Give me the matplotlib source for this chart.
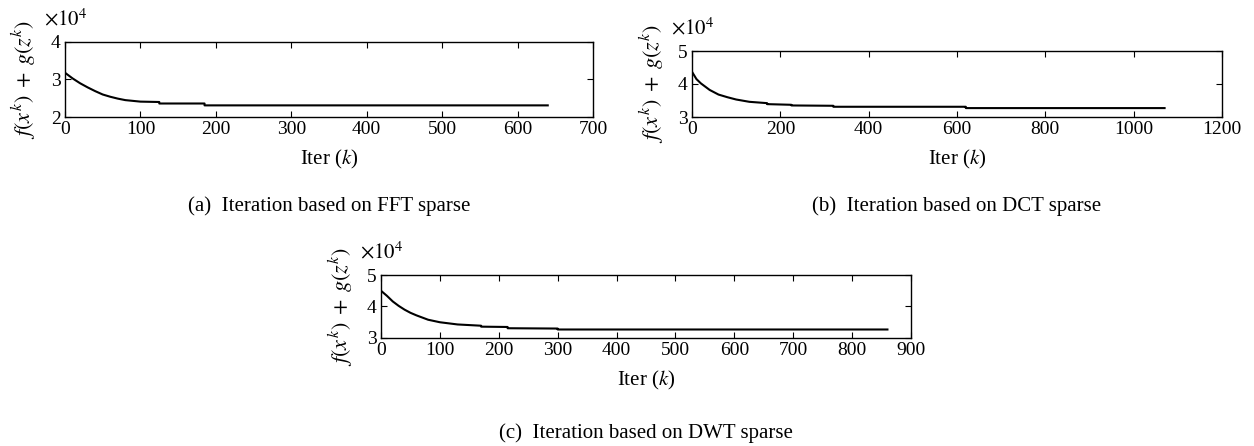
import matplotlib.pyplot as plt
from matplotlib.ticker import FuncFormatter

plt.rcParams['font.family'] = ['Liberation Serif', 'DejaVu Serif']
plt.rcParams['mathtext.fontset'] = 'stix'
plt.rcParams['font.size'] = 13

W, H = 1254, 446

# (a) FFT sparse
fft_k = [0, 10, 20, 30, 40, 50, 60, 70, 80, 90, 100, 125, 125, 185, 185, 640]
fft_v = [31800, 30300, 29000, 27900, 26900, 26000, 25400, 24900, 24500, 24300, 24100, 24000, 23600, 23600, 23100, 23100]

# (b) DCT sparse
dct_k = [0, 10, 20, 40, 60, 80, 100, 130, 170, 170, 225, 225, 320, 320, 620, 620, 1070]
dct_v = [43700, 41500, 40200, 38200, 36800, 36000, 35300, 34600, 34200, 33900, 33700, 33500, 33400, 33100, 33100, 32700, 32700]

# (c) DWT sparse
dwt_k = [0, 10, 20, 30, 40, 50, 60, 80, 100, 130, 170, 170, 215, 215, 300, 300, 860]
dwt_v = [45000, 43400, 41600, 40200, 39000, 38000, 37200, 35800, 35000, 34300, 33900, 33600, 33500, 33100, 33000, 32700, 32700]

panels = [
    # data, pixel box (left, top, right, bottom), xlim, xticks, yticks, caption
    (fft_k, fft_v, (65, 42, 593, 117), 700, range(0, 701, 100), [20000, 30000, 40000],
     '(a)  Iteration based on FFT sparse', 206),
    (dct_k, dct_v, (692, 51, 1222, 117), 1200, range(0, 1201, 200), [30000, 40000, 50000],
     '(b)  Iteration based on DCT sparse', 206),
    (dwt_k, dwt_v, (381, 275, 911, 338), 900, range(0, 901, 100), [30000, 40000, 50000],
     '(c)  Iteration based on DWT sparse', 433),
]

fig = plt.figure(figsize=(W / 100, H / 100), dpi=100)

for k, v, box, xmax, xt, yt, cap, cap_y in panels:
    l, t, r, b = box
    ax = fig.add_axes([l / W, 1 - b / H, (r - l) / W, (b - t) / H])
    ax.plot(k, v, color='black', lw=1.5)
    ax.set_xlim(0, xmax)
    ax.set_ylim(yt[0], yt[-1])
    ax.set_xticks(list(xt))
    ax.set_yticks(yt)
    ax.yaxis.set_major_formatter(FuncFormatter(lambda y, p: '%d' % round(y / 1e4)))
    ax.tick_params(direction='in', length=4, width=0.8, top=True, right=True,
                   labelsize=14, pad=3)
    for s in ax.spines.values():
        s.set_linewidth(1.0)
    ax.set_xlabel('Iter ($k$)', fontsize=15, labelpad=7)
    ax.set_ylabel('$f(x^k)\\;+\\;g(z^k)$', fontsize=16, labelpad=9)
    fig.text((l - 21) / W, 1 - (t - 17) / H, '$\\times10^4$', fontsize=15,
             ha='left', va='baseline')
    fig.text((l + r) / 2 / W, 1 - cap_y / H, cap, fontsize=15, ha='center', va='center')

fig.savefig('out.png', dpi=100)
